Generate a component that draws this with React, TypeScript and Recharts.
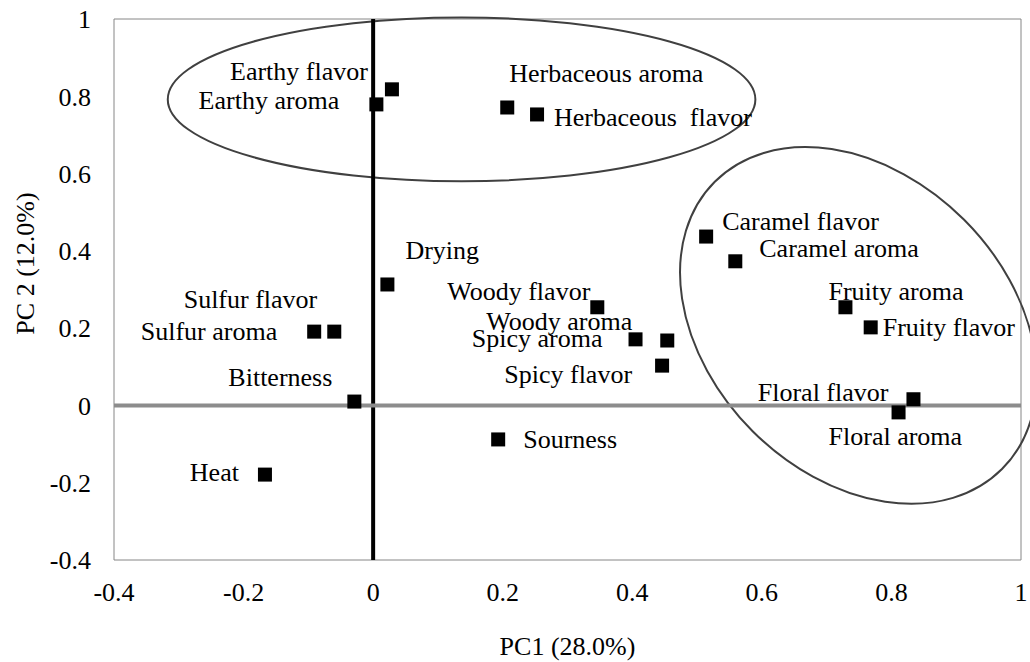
import React from "react"
import {
  ScatterChart,
  Scatter,
  XAxis,
  YAxis,
  ReferenceLine,
  ReferenceArea,
} from "recharts"

const FONT = "'Liberation Serif', 'Times New Roman', serif"
const GRAY = "#868686"
const RING = "#404040"

const ATTRIBUTES = [
  "Earthy flavor",
  "Earthy aroma",
  "Herbaceous aroma",
  "Herbaceous  flavor",
  "Caramel flavor",
  "Caramel aroma",
  "Fruity aroma",
  "Fruity flavor",
  "Floral flavor",
  "Floral aroma",
  "Drying",
  "Woody flavor",
  "Woody aroma",
  "Spicy aroma",
  "Spicy flavor",
  "Sourness",
  "Bitterness",
  "Sulfur flavor",
  "Sulfur aroma",
  "Heat",
]
const PC1 = [
  0.029, 0.005, 0.207, 0.253, 0.514, 0.559, 0.729, 0.768, 0.834, 0.811,
  0.022, 0.346, 0.454, 0.405, 0.446, 0.193, -0.029, -0.06, -0.091, -0.167,
]
const PC2 = [
  0.818, 0.779, 0.771, 0.753, 0.437, 0.373, 0.254, 0.202, 0.016, -0.018,
  0.313, 0.254, 0.168, 0.171, 0.103, -0.088, 0.01, 0.191, 0.191, -0.179,
]
const TICKS = [-0.4, -0.2, 0, 0.2, 0.4, 0.6, 0.8, 1]

// label placement around each marker, in pixels: [anchor, dx, dy]
const LABEL_POS: Record<string, [string, number, number]> = {
  "Earthy flavor": ["end", -24, -18],
  "Earthy aroma": ["end", -37, -4],
  "Herbaceous aroma": ["start", 2, -34],
  "Herbaceous  flavor": ["start", 17, 3],
  "Caramel flavor": ["start", 16, -15],
  "Caramel aroma": ["start", 24, -13],
  "Fruity aroma": ["start", -17, -16],
  "Fruity flavor": ["start", 12, 0],
  "Floral flavor": ["end", -25, -7],
  "Floral aroma": ["start", -70, 24],
  Drying: ["start", 18, -34],
  "Woody flavor": ["end", -7, -16],
  "Woody aroma": ["end", -35, -19],
  "Spicy aroma": ["end", -33, -1],
  "Spicy flavor": ["end", -30, 9],
  Sourness: ["start", 25, 0],
  Bitterness: ["end", -22, -24],
  "Sulfur flavor": ["end", -17, -32],
  "Sulfur aroma": ["end", -37, 0],
  Heat: ["end", -26, -2],
}

const data = ATTRIBUTES.map((name, i) => ({ name, x: PC1[i], y: PC2[i] }))

function Marker(props: any) {
  const { cx, cy, payload } = props
  if (cx == null || cy == null) return null
  const [anchor, dx, dy] = LABEL_POS[payload.name] || ["start", 12, 0]
  return (
    <g>
      <rect x={cx - 7} y={cy - 7} width={14} height={14} fill="#000" />
      <text
        x={cx + dx}
        y={cy + dy}
        textAnchor={anchor as any}
        dominantBaseline="central"
        fontFamily={FONT}
        fontSize={26}
        fill="#000"
        style={{ whiteSpace: "pre" }}
      >
        {payload.name}
      </text>
    </g>
  )
}

// ellipse inscribed in the reference area's box, optionally rotated about its centre
function Ring(angle: number) {
  return (props: any) => {
    const { x, y, width, height } = props
    const cx = x + width / 2
    const cy = y + height / 2
    return (
      <ellipse
        cx={cx}
        cy={cy}
        rx={Math.abs(width) / 2}
        ry={Math.abs(height) / 2}
        fill="none"
        stroke={RING}
        strokeWidth={2}
        transform={`rotate(${angle} ${cx} ${cy})`}
      />
    )
  }
}

const tickStyle = { fontFamily: FONT, fontSize: 26, fill: "#000" }

export default function App() {
  return (
    <div style={{ position: "absolute", left: 0, top: 0, width: 1030, height: 662, background: "#fff" }}>
      <ScatterChart width={1030} height={662} margin={{ top: 19, right: 9, bottom: 0, left: 0 }}>
        <XAxis
          type="number"
          dataKey="x"
          domain={[-0.4, 1]}
          ticks={TICKS}
          interval={0}
          axisLine={false}
          tickLine={false}
          tickSize={0}
          tickMargin={23}
          height={102}
          tick={tickStyle}
          label={{
            content: (p: any) => {
              const vb = p.viewBox
              return (
                <text
                  x={vb.x + vb.width / 2}
                  y={vb.y + 86}
                  textAnchor="middle"
                  dominantBaseline="central"
                  fontFamily={FONT}
                  fontSize={26}
                  fill="#000"
                >
                  PC1 (28.0%)
                </text>
              )
            },
          }}
        />
        <YAxis
          type="number"
          dataKey="y"
          domain={[-0.4, 1]}
          ticks={TICKS}
          interval={0}
          axisLine={false}
          tickLine={false}
          tickSize={0}
          tickMargin={23}
          width={114}
          tick={tickStyle}
          label={{
            content: (p: any) => {
              const vb = p.viewBox
              const lx = vb.x + 25
              const ly = vb.y + vb.height / 2 - 26
              return (
                <text
                  x={lx}
                  y={ly}
                  textAnchor="middle"
                  dominantBaseline="central"
                  fontFamily={FONT}
                  fontSize={26}
                  fill="#000"
                  transform={`rotate(-90 ${lx} ${ly})`}
                >
                  PC 2 (12.0%)
                </text>
              )
            },
          }}
        />
        <ReferenceArea x1={-0.4} x2={1} y1={-0.4} y2={1} fill="none" stroke={GRAY} strokeWidth={1} />
        <ReferenceLine x={0} stroke="#000" strokeWidth={4} />
        <ReferenceLine y={0} stroke="#8c8c8c" strokeWidth={4} />
        <ReferenceArea
          x1={-0.317}
          x2={0.59}
          y1={0.58}
          y2={1.004}
          ifOverflow="visible"
          shape={Ring(0)}
        />
        <ReferenceArea
          x1={0.4355}
          x2={1.0625}
          y1={-0.18}
          y2={0.594}
          ifOverflow="visible"
          shape={Ring(45)}
        />
        <Scatter data={data} isAnimationActive={false} shape={(p: any) => <Marker {...p} />} />
      </ScatterChart>
    </div>
  )
}
